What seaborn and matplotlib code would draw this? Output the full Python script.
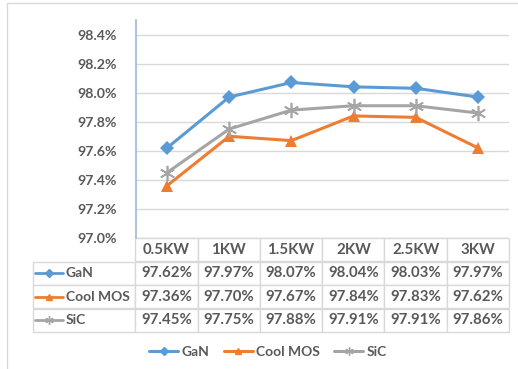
import numpy as np
import pandas as pd
import matplotlib
matplotlib.use("Agg")
import matplotlib.pyplot as plt
import seaborn as sns
from matplotlib.lines import Line2D
from matplotlib.patches import Rectangle

# data
categories = ["0.5KW", "1KW", "1.5KW", "2KW", "2.5KW", "3KW"]
gan = [97.62, 97.97, 98.07, 98.04, 98.03, 97.97]
coolmos = [97.36, 97.70, 97.67, 97.84, 97.83, 97.62]
sic = [97.45, 97.75, 97.88, 97.91, 97.91, 97.86]
series_names = ["GaN", "Cool MOS", "SiC"]
yticks = [97.0, 97.2, 97.4, 97.6, 97.8, 98.0, 98.2, 98.4]

colors = {"GaN": "#5B9BD5", "Cool MOS": "#ED7D31", "SiC": "#A5A5A5"}
markers = {"GaN": "D", "Cool MOS": "^", "SiC": (6, 2, 0)}
msizes = {"GaN": 7, "Cool MOS": 9, "SiC": 11}
txt_col = "#595959"
grid_col = "#D9D9D9"

df = pd.DataFrame({"load": categories * 3,
                   "eff": gan + coolmos + sic,
                   "device": np.repeat(series_names, len(categories))})

sns.set_theme(style="white")
plt.rcParams["font.family"] = ["Lato", "DejaVu Sans"]

fig = plt.figure(figsize=(5.18, 3.69), dpi=100)
ax = fig.add_axes([136/518, 1 - 238/369, 373/518, 218/369])

x_pos = {c: i for i, c in enumerate(categories)}
df["x"] = df["load"].map(x_pos)

for name in series_names:
    sub = df[df["device"] == name]
    sns.lineplot(data=sub, x="x", y="eff", ax=ax, color=colors[name], lw=2.2,
                 marker=markers[name], markersize=msizes[name],
                 markeredgecolor=colors[name], markeredgewidth=1.2 if name == "SiC" else 0,
                 label=name, legend=False, zorder=3)

ax.set_xlim(-0.5, len(categories) - 0.5)
ax.set_ylim(97.0, 98.5)
ax.set_yticks(yticks)
ax.set_yticklabels([f"{v:.1f}%" for v in yticks], color=txt_col,
                   fontsize=10.2, fontweight="bold")
ax.tick_params(axis="y", pad=14, length=0)
ax.set_xticks([])
ax.set_xlabel("")
ax.set_ylabel("")
ax.grid(axis="y", color=grid_col, lw=1)
ax.set_axisbelow(True)
for s in ["top", "right", "bottom"]:
    ax.spines[s].set_visible(False)
ax.spines["left"].set_color("#9DB9D9")
ax.spines["left"].set_linewidth(1.2)

# data table under the plot
cell_text = []
for name, vals in zip(series_names, [gan, coolmos, sic]):
    cell_text.append([name] + [f"{v:.2f}%" for v in vals])
tbl = ax.table(cellText=cell_text, colLabels=[""] + categories,
               colWidths=[102] + [62] * len(categories),
               cellLoc="center", bbox=[-103/373, -94/218, 476/373, 94/218])
tbl.auto_set_font_size(False)
for (r, c), cell in tbl.get_celld().items():
    cell.set_edgecolor(grid_col)
    cell.set_linewidth(1)
    cell.get_text().set_color(txt_col)
    cell.get_text().set_fontsize(10.8)
    cell.get_text().set_fontweight("bold")
    if c == 0:
        cell.get_text().set_fontsize(10)
        cell.get_text().set_ha("left")
        cell._loc = "left"
        cell.PAD = 0.32
    if r == 0 and c == 0:
        cell.visible_edges = ""

# legend keys inside the row label cells
row_h = 94 / 218 / 4
for i, name in enumerate(series_names):
    yk = -row_h * (1.5 + i)
    x0, x1 = -101/373, -73/373
    ax.add_line(Line2D([x0, x1], [yk, yk], transform=ax.transAxes, clip_on=False,
                       color=colors[name], lw=2))
    ax.add_line(Line2D([(x0 + x1) / 2], [yk], transform=ax.transAxes, clip_on=False,
                       color=colors[name], marker=markers[name],
                       markersize=msizes[name] * 0.55, markeredgecolor=colors[name],
                       markeredgewidth=1))

# bottom legend
handles = [Line2D([], [], color=colors[n], lw=2.2, marker=markers[n],
                  markersize=msizes[n] * 0.55, markeredgecolor=colors[n])
           for n in series_names]
leg = fig.legend(handles, series_names, loc="center", bbox_to_anchor=(268/518, 1 - 352/369),
                 ncol=3, frameon=False, fontsize=10, handlelength=2.1,
                 columnspacing=1.0, handletextpad=0.25)
for t in leg.get_texts():
    t.set_color(txt_col)
    t.set_fontweight("bold")

# outer chart frame
fig.patches.append(Rectangle((7/518, -0.05), 1.1, 1.05 - 3/369, transform=fig.transFigure,
                             fill=False, edgecolor=grid_col, lw=1))

fig.savefig("out.png", dpi=100)
